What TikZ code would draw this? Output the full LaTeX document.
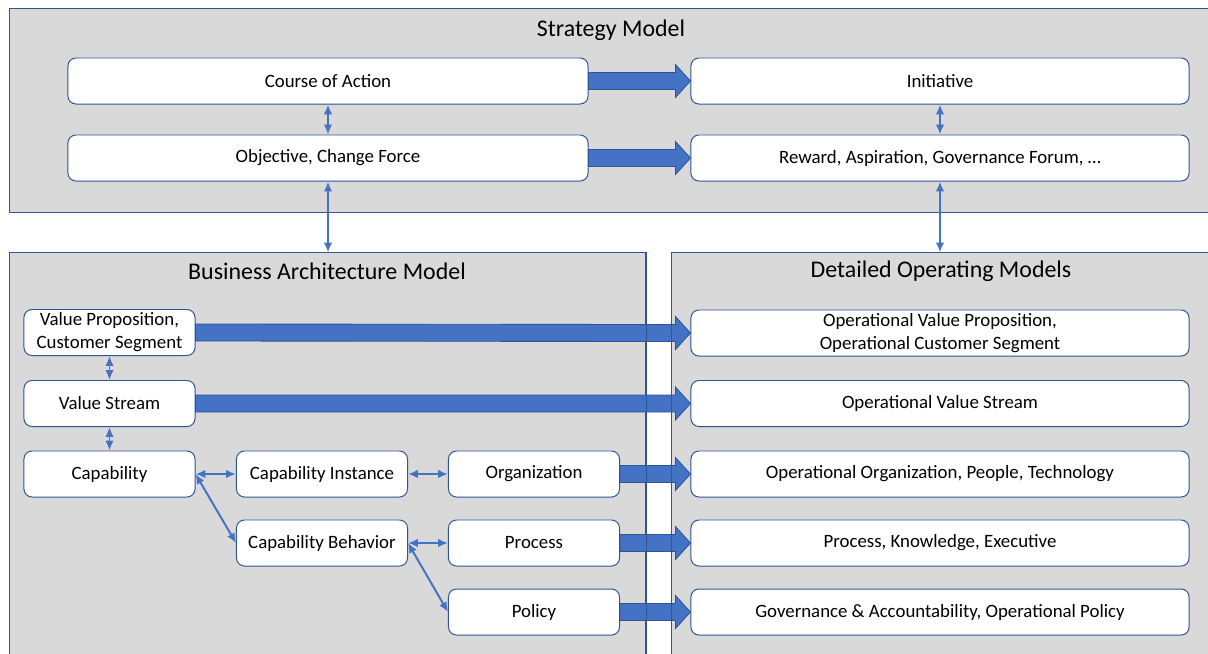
\documentclass[tikz,border=0pt]{standalone}
\usepackage{fontspec}
\setmainfont{Carlito}
\usepackage{tikz}
\usetikzlibrary{arrows.meta,positioning,calc}

\definecolor{panelgray}{HTML}{D9D9D9}
\definecolor{edgeblue}{HTML}{2F5597}
\definecolor{fillblue}{HTML}{4472C4}

\newcommand{\fatarrow}[2]{%
  \draw[fat] ($(#1.east)+(0,8.5)$) -- ($(#2.west)+(-15,8.5)$) -- ($(#2.west)+(-15,16.5)$) -- (#2.west)
    -- ($(#2.west)+(-15,-16.5)$) -- ($(#2.west)+(-15,-8.5)$) -- ($(#1.east)+(0,-8.5)$) -- cycle;}

\begin{document}
\begin{tikzpicture}[x=0.025cm, y=-0.025cm,
  panel/.style={draw=edgeblue, fill=panelgray, line width=0.7pt, inner sep=0pt},
  title/.style={font=\fontsize{17}{20}\selectfont, text=black},
  box/.style={draw=edgeblue, fill=white, line width=0.7pt, rounded corners=0.2cm, minimum height=1.15cm, align=center, inner sep=2pt, font=\fontsize{13.4}{16.4}\selectfont},
  wide/.style={box, minimum width=12.45cm},
  half/.style={box, minimum width=13cm},
  small/.style={box, minimum width=4.275cm},
  link/.style={<->, >={Latex[length=7pt,width=6pt]}, color=fillblue, line width=1.4pt},
  fat/.style={draw=edgeblue, fill=fillblue, line width=0.6pt}]
  \useasboundingbox (0,0) rectangle (1208,653);
  \clip (0,0) rectangle (1208,653);

  % panels
  \node[panel, minimum width=31.5cm, minimum height=5.075cm] (sm) at (640,110.5) {};
  \node[panel, minimum width=15.8875cm, minimum height=10.675cm] (bam) at (327.75,466.5) {};
  \node[panel, minimum width=14.7cm, minimum height=10.675cm] (dom) at (966,466.5) {};
  \node[title] (smt) at (611,30) {Strategy Model};
  \node[title] (bamt) at (327,271) {Business Architecture Model};
  \node[title] (domt) at (941,271) {Detailed Operating Models};

  % strategy model
  \node[half] (coa) at (328,81) {Course of Action};
  \node[wide] (ini) at (940,81) {Initiative};
  \node[half] (obj) at (328,158) {Objective, Change Force};
  \node[wide] (rew) at (940,158) {Reward, Aspiration, Governance Forum, \ldots};

  % business architecture model
  \node[small] (vp) at (109.5,332.5) {Value Proposition,\\Customer Segment};
  \node[small] (vs) at (109.5,403.5) {Value Stream};
  \node[small] (cap) at (109.5,474) {Capability};
  \node[small] (capi) at (322,474) {Capability Instance};
  \node[small] (org) at (534,474) {Organization};
  \node[small] (capb) at (322,543) {Capability Behavior};
  \node[small] (proc) at (534,543) {Process};
  \node[small] (pol) at (534,612) {Policy};

  % detailed operating models
  \node[wide] (ovp) at (940,333) {Operational Value Proposition,\\Operational Customer Segment};
  \node[wide] (ovs) at (940,403.5) {Operational Value Stream};
  \node[wide] (oorg) at (940,474) {Operational Organization, People, Technology};
  \node[wide] (oproc) at (940,543) {Process, Knowledge, Executive};
  \node[wide] (opol) at (940,612) {Governance \& Accountability, Operational Policy};

  % wide arrows
  \fatarrow{coa}{ini}
  \fatarrow{obj}{rew}
  \fatarrow{vp}{ovp}
  \fatarrow{vs}{ovs}
  \fatarrow{org}{oorg}
  \fatarrow{proc}{oproc}
  \fatarrow{pol}{opol}
  \draw[edgeblue, line width=0.7pt] (bam.north east) -- (bam.south east);
  \draw[edgeblue, line width=0.7pt] (dom.north west) -- (dom.south west);

  % links
  \coordinate (bamtop) at (obj |- bam.north);
  \coordinate (domtop) at (rew |- dom.north);
  \draw[link] (coa) -- (obj);
  \draw[link] (ini) -- (rew);
  \draw[link] (obj) -- (bamtop);
  \draw[link] (rew) -- (domtop);
  \draw[link] (vp) -- (vs);
  \draw[link] (vs) -- (cap);
  \draw[link] (cap) -- (capi);
  \draw[link] (capi) -- (org);
  \draw[link] (capb) -- (proc);
  \draw[link] (cap.east) -- (capb.west);
  \draw[link] (capb.east) -- (pol.west);
\end{tikzpicture}
\end{document}
